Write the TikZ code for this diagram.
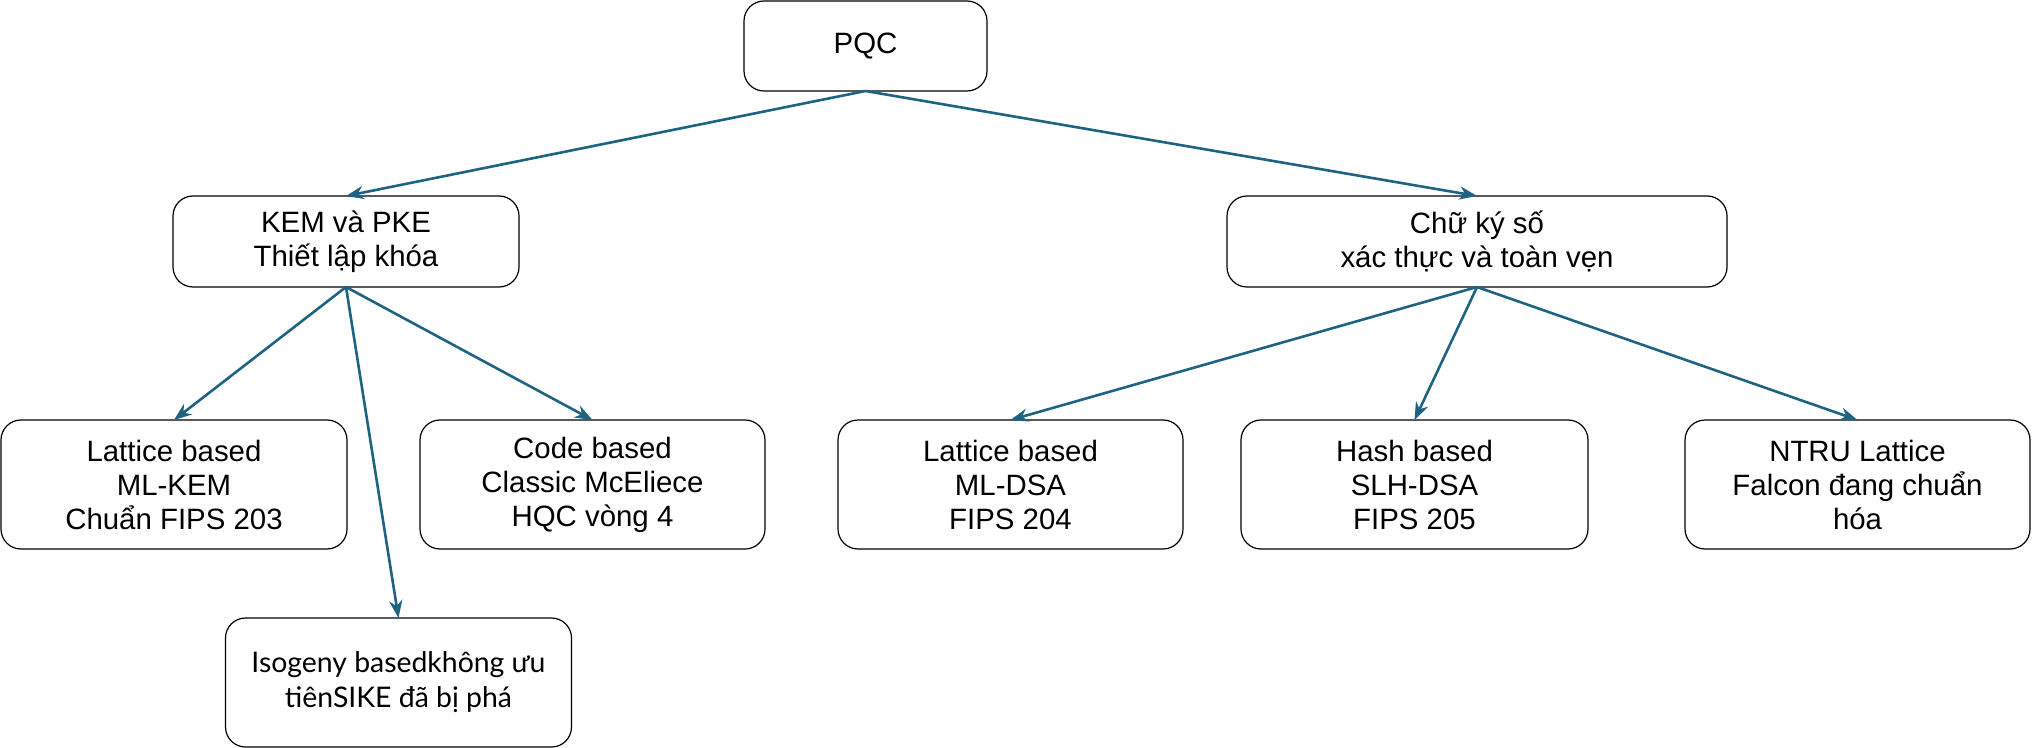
\documentclass[tikz,border=0pt]{standalone}
\usepackage{fontspec}
\setmainfont{Liberation Sans}
\newfontfamily\isofont{Lato}
\usepackage{xcolor}
\usetikzlibrary{arrows.meta}
\usetikzlibrary{positioning}
\definecolor{linkblue}{RGB}{31,99,130}

\begin{document}
\begin{tikzpicture}[x=0.5pt, y=-0.5pt, >=Stealth,
    box/.style={draw=black, line width=0.6pt, rounded corners=10pt,
      inner sep=0pt, outer sep=0pt, align=center,
      font=\fontsize{14.7}{17}\selectfont},
    link/.style={->, draw=linkblue, line width=1.3pt,
      shorten <=0pt, shorten >=0pt}]
  % ===== Canvas =====
  \useasboundingbox (0,0) rectangle (2032,748);

  % Root
  \node[box, minimum width=121.5pt, minimum height=45pt] (pqc) at (865.5,46) {PQC};

  % Second level
  \node[box, minimum width=173pt, minimum height=45.5pt] (kem) at (346,241.5)
    {KEM và PKE\\Thiết lập khóa};
  \node[box, minimum width=250pt, minimum height=45.5pt] (sig) at (1477,241.5)
    {Chữ ký số\\xác thực và toàn vẹn};

  % Leaves under KEM
  \node[box, minimum width=173pt, minimum height=64.5pt] (latkem) at (174,484.5)
    {Lattice based\\ML-KEM\\Chuẩn FIPS 203};
  \node[box, minimum width=172.5pt, minimum height=64.5pt] (code) at (592.5,484.5)
    {Code based\\Classic McEliece\\HQC vòng 4};
  \node[box, minimum width=173pt, minimum height=64.5pt,
    font=\isofont\fontsize{14.2}{17.5}\selectfont] (iso) at (398.5,682.5)
    {Isogeny basedkhông ưu\\tiênSIKE đã bị phá};

  % Leaves under signatures
  \node[box, minimum width=172.5pt, minimum height=64.5pt] (latdsa) at (1010.5,484.5)
    {Lattice based\\ML-DSA\\FIPS 204};
  \node[box, minimum width=173.5pt, minimum height=64.5pt] (hash) at (1414.5,484.5)
    {Hash based\\SLH-DSA\\FIPS 205};
  \node[box, minimum width=172.5pt, minimum height=64.5pt] (ntru) at (1857.5,484.5)
    {NTRU Lattice\\Falcon đang chuẩn\\hóa};

  % Connectors
  \draw[link] (pqc.south) -- (kem.north);
  \draw[link] (pqc.south) -- (sig.north);
  \draw[link] (kem.south) -- (latkem.north);
  \draw[link] (kem.south) -- (code.north);
  \draw[link] (kem.south) -- (iso.north);
  \draw[link] (sig.south) -- (latdsa.north);
  \draw[link] (sig.south) -- (hash.north);
  \draw[link] (sig.south) -- (ntru.north);
\end{tikzpicture}
\end{document}
